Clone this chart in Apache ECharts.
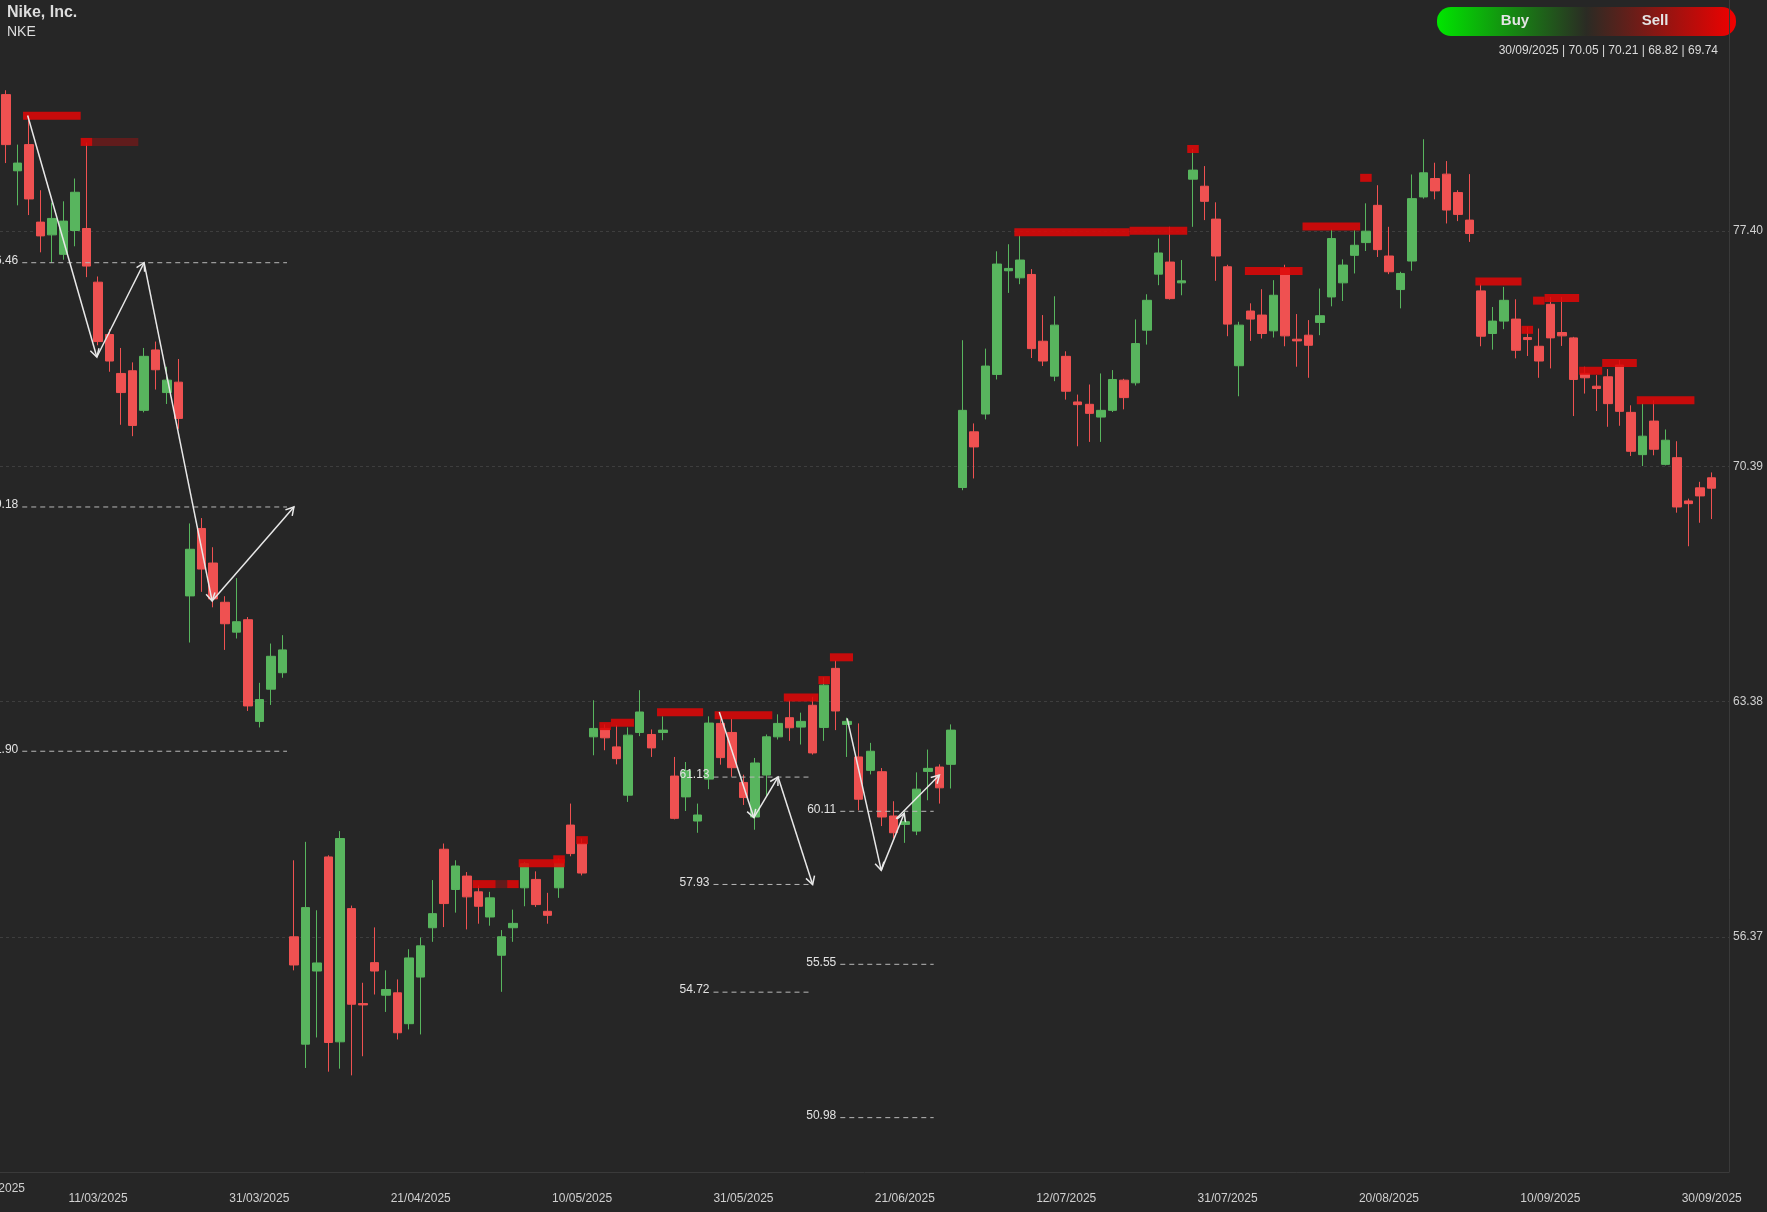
<!DOCTYPE html>
<html>
<head>
<meta charset="utf-8">
<title>NKE</title>
<script src="https://cdn.jsdelivr.net/npm/echarts@6/dist/echarts.min.js"></script>
<style>
    html, body { margin: 0; padding: 0; background: #262626; }
    #chart { width: 1767px; height: 1212px; }
</style>
</head>
<body>
<div id="chart"></div>
<script>
// trading days (dd/mm, 2025) - friday bars carry the saturday stamp like the source
var days = [
    '27/02', '01/03',
    '03/03', '04/03', '05/03', '06/03', '08/03',
    '10/03', '11/03', '12/03', '13/03', '15/03',
    '17/03', '18/03', '19/03', '20/03', '22/03',
    '24/03', '25/03', '26/03', '27/03', '29/03',
    '31/03', '01/04', '02/04', '03/04', '05/04',
    '07/04', '08/04', '09/04', '10/04', '12/04',
    '14/04', '15/04', '16/04', '17/04',
    '21/04', '22/04', '23/04', '24/04', '26/04',
    '28/04', '29/04', '30/04', '01/05', '03/05',
    '05/05', '06/05', '07/05', '08/05', '10/05',
    '12/05', '13/05', '14/05', '15/05', '17/05',
    '19/05', '20/05', '21/05', '22/05', '24/05',
    '27/05', '28/05', '29/05', '31/05',
    '02/06', '03/06', '04/06', '05/06', '07/06',
    '09/06', '10/06', '11/06', '12/06', '14/06',
    '16/06', '17/06', '18/06', '21/06',
    '23/06', '24/06', '25/06', '26/06', '28/06',
    '30/06', '01/07', '02/07', '03/07',
    '07/07', '08/07', '09/07', '10/07', '12/07',
    '14/07', '15/07', '16/07', '17/07', '19/07',
    '21/07', '22/07', '23/07', '24/07', '26/07',
    '28/07', '29/07', '30/07', '31/07', '02/08',
    '04/08', '05/08', '06/08', '07/08', '09/08',
    '11/08', '12/08', '13/08', '14/08', '16/08',
    '18/08', '19/08', '20/08', '21/08', '23/08',
    '25/08', '26/08', '27/08', '28/08', '30/08',
    '02/09', '03/09', '04/09', '06/09',
    '08/09', '09/09', '10/09', '11/09', '13/09',
    '15/09', '16/09', '17/09', '18/09', '20/09',
    '22/09', '23/09', '24/09', '25/09', '27/09',
    '29/09', '30/09',
    '01/10'   // empty slot on the right edge
];

var opens = [
    81.47, 79.20, 79.98, 77.67, 77.29, 76.71, 77.42, 77.48, 75.88, 74.32,
    73.16, 73.24, 72.06, 73.86, 72.59, 72.90, 66.53, 68.54, 67.51, 66.34,
    65.45, 65.82, 62.79, 63.75, 64.24, 56.37, 53.17, 55.35, 58.75, 53.24,
    57.21, 54.38, 55.60, 54.63, 54.70, 53.78, 55.17, 56.64, 58.98, 57.78,
    58.18, 57.71, 56.96, 55.82, 56.64, 57.83, 58.08, 57.13, 57.83, 59.70,
    59.15, 62.33, 62.58, 62.03, 60.59, 62.46, 62.40, 62.46, 61.16, 60.54,
    59.82, 61.07, 62.73, 62.46, 60.97, 59.94, 61.19, 62.33, 62.90, 62.62,
    63.27, 62.61, 64.37, 62.70, 61.73, 61.33, 61.29, 59.97, 59.72, 59.52,
    61.30, 61.43, 61.51, 69.76, 71.42, 71.95, 73.13, 76.22, 76.01, 76.11,
    74.12, 73.08, 73.67, 72.31, 72.24, 71.86, 72.06, 72.96, 72.88, 74.45,
    76.12, 76.48, 75.86, 78.95, 78.74, 77.76, 76.34, 73.39, 75.02, 74.90,
    74.43, 76.29, 74.18, 74.30, 74.68, 75.44, 75.86, 76.68, 77.06, 78.17,
    76.66, 75.66, 76.51, 78.42, 78.97, 79.10, 78.55, 77.73, 75.62, 74.35,
    74.72, 74.78, 74.23, 73.97, 75.22, 74.38, 74.22, 73.16, 72.78, 73.06,
    73.41, 72.00, 70.74, 71.74, 70.45, 70.65, 69.36, 69.75, 70.05
];
var highs = [
    81.60, 79.98, 80.73, 78.62, 78.25, 78.29, 78.97, 80.04, 76.05, 74.48,
    73.92, 73.49, 73.92, 74.11, 73.36, 73.59, 68.69, 68.85, 67.98, 66.52,
    67.06, 65.90, 63.94, 65.11, 65.36, 58.65, 59.20, 57.16, 58.80, 59.52,
    57.30, 55.00, 56.65, 55.37, 55.10, 56.00, 56.35, 58.06, 59.15, 58.65,
    58.30, 57.90, 57.71, 56.57, 57.18, 58.60, 58.32, 57.68, 58.70, 60.34,
    59.30, 63.42, 62.70, 62.68, 62.61, 63.72, 62.55, 62.94, 61.73, 61.58,
    60.34, 62.94, 63.00, 62.87, 61.20, 61.70, 62.40, 63.00, 63.42, 63.05,
    63.52, 64.10, 64.61, 62.90, 62.73, 62.15, 61.40, 60.41, 60.09, 61.27,
    61.95, 61.51, 62.70, 74.15, 71.67, 73.90, 76.80, 77.01, 77.28, 76.27,
    74.90, 75.46, 73.82, 72.53, 72.83, 73.16, 73.26, 73.00, 74.77, 75.52,
    77.18, 77.53, 76.54, 79.85, 79.34, 78.26, 76.40, 74.70, 75.25, 75.67,
    75.94, 76.40, 74.93, 74.75, 75.69, 77.45, 76.56, 77.43, 78.23, 78.77,
    77.53, 76.19, 79.09, 80.14, 79.44, 79.49, 78.62, 79.10, 75.84, 75.14,
    75.74, 75.37, 74.55, 74.50, 75.44, 75.44, 74.25, 73.36, 73.11, 73.29,
    73.56, 72.21, 72.26, 72.36, 71.49, 71.14, 69.43, 69.93, 70.21
];
var lows = [
    79.43, 78.17, 77.88, 76.77, 76.46, 76.55, 76.95, 76.03, 74.00, 73.21,
    71.63, 71.29, 72.00, 72.68, 72.25, 71.51, 65.14, 66.65, 66.19, 64.92,
    65.26, 63.10, 62.61, 63.28, 64.09, 55.37, 52.46, 53.37, 52.35, 52.44,
    52.24, 52.81, 54.65, 54.13, 53.31, 53.61, 53.46, 56.22, 56.66, 57.09,
    56.59, 56.76, 56.70, 54.73, 56.22, 57.28, 57.26, 56.76, 57.53, 58.77,
    58.20, 61.78, 61.93, 61.51, 60.39, 62.35, 61.73, 62.23, 59.87, 60.12,
    59.47, 60.77, 61.50, 61.14, 60.30, 59.56, 60.56, 62.25, 62.21, 62.10,
    61.80, 62.21, 62.53, 61.73, 60.14, 61.21, 59.67, 59.30, 59.17, 59.40,
    60.44, 60.34, 60.79, 69.68, 70.03, 71.79, 72.98, 75.56, 75.82, 73.62,
    73.38, 72.93, 72.38, 70.99, 71.12, 71.12, 72.01, 72.09, 72.80, 74.02,
    75.79, 75.36, 75.49, 77.53, 77.73, 75.92, 74.27, 72.48, 74.13, 74.20,
    74.23, 73.97, 73.36, 73.03, 74.30, 75.16, 75.32, 76.14, 76.81, 76.63,
    76.12, 75.10, 76.22, 78.37, 78.35, 77.63, 77.70, 77.08, 73.97, 73.87,
    74.48, 73.61, 73.68, 73.03, 73.31, 73.98, 71.89, 72.56, 72.04, 71.57,
    71.60, 70.70, 70.40, 70.72, 70.42, 69.01, 68.01, 68.71, 68.82
];
var closes = [
    79.98, 79.43, 78.36, 77.26, 77.78, 77.70, 78.56, 76.36, 74.11, 73.53,
    72.59, 71.61, 73.67, 73.27, 72.96, 71.82, 67.92, 67.33, 66.44, 65.70,
    65.76, 63.25, 63.44, 64.73, 64.92, 55.53, 57.24, 55.59, 53.22, 59.30,
    54.36, 54.34, 55.35, 54.80, 53.51, 55.74, 56.10, 57.06, 57.36, 58.48,
    57.56, 57.28, 57.53, 56.37, 56.77, 58.55, 57.33, 57.01, 58.57, 58.85,
    58.27, 62.58, 62.30, 61.68, 62.38, 63.07, 62.00, 62.53, 59.90, 61.32,
    60.00, 62.74, 61.71, 61.41, 60.52, 61.55, 62.33, 62.73, 62.60, 62.79,
    61.85, 63.87, 63.10, 62.79, 60.47, 61.90, 59.94, 59.47, 59.80, 60.77,
    61.39, 60.81, 62.53, 72.06, 70.97, 73.38, 76.42, 76.29, 76.54, 73.90,
    73.53, 74.60, 72.63, 72.23, 71.97, 72.06, 72.98, 72.44, 74.05, 75.34,
    76.75, 75.39, 75.92, 79.22, 78.29, 76.66, 74.63, 74.60, 74.78, 74.35,
    75.49, 74.28, 74.13, 74.00, 74.88, 77.18, 76.39, 76.98, 77.40, 76.85,
    76.19, 76.14, 78.37, 79.14, 78.60, 78.03, 77.90, 77.33, 74.27, 74.72,
    75.34, 73.85, 74.17, 73.53, 74.22, 74.28, 72.98, 73.03, 72.71, 72.26,
    72.03, 70.84, 71.29, 70.90, 71.17, 69.18, 69.28, 69.51, 69.74
];

// right axis ticks
var priceTicks = [56.37, 63.38, 70.39, 77.40];

// sell zones: [first bar, last bar, price, strong 1 / faded 0]
var sellZones = [
    [2, 6, 80.84, 1], [7, 7, 80.06, 1], [8, 11, 80.06, 0],
    [41, 42, 57.94, 1], [43, 43, 57.94, 0], [44, 44, 57.94, 1],
    [45, 48, 58.56, 1], [48, 48, 58.68, 1], [50, 50, 59.25, 1],
    [52, 52, 62.65, 1], [53, 54, 62.75, 1], [57, 60, 63.06, 1],
    [62, 66, 62.97, 1], [68, 70, 63.50, 1], [71, 71, 64.02, 1],
    [72, 73, 64.70, 1], [88, 97, 77.37, 1], [98, 102, 77.41, 1],
    [103, 103, 79.85, 1], [108, 112, 76.21, 1], [113, 117, 77.54, 1],
    [118, 118, 78.99, 1], [128, 131, 75.90, 1], [132, 132, 74.46, 1],
    [133, 133, 75.33, 1], [134, 136, 75.41, 1], [137, 138, 73.24, 1],
    [139, 141, 73.47, 1], [142, 146, 72.36, 1]
];

// zigzag pivots [bar, price]
var waveA = [[1.9, 80.85], [7.9, 73.65], [12.0, 76.46], [17.9, 66.38], [25.0, 69.18]];
var waveB = [[61.9, 63.07], [64.9, 59.92], [67.0, 61.13], [70.0, 57.93]];
var waveC = [[73.0, 62.88], [75.95, 58.35], [77.95, 60.05]];
var waveD = [[77.25, 59.89], [81.0, 61.19]];

// projected levels [from bar, to bar, price]
var levels = [
    [1.43, 24.4, 76.46], [1.43, 24.4, 69.18], [1.43, 24.4, 61.90],
    [61.4, 69.8, 61.13], [61.4, 69.8, 57.93], [61.4, 69.8, 54.72],
    [72.4, 80.5, 60.11], [72.4, 80.5, 55.55], [72.4, 80.5, 50.98]
];

var lastBar = '30/09/2025 | 70.05 | 70.21 | 68.82 | 69.74';

var FONT = '"Liberation Sans", Arial, Helvetica, sans-serif';

function buildCandles() {
    var out = [];
    for (var i = 0; i < opens.length; i++) {
        out.push([opens[i], closes[i], lows[i], highs[i]]);
    }
    return out;
}

function buildLegs(waves) {
    var out = [];
    waves.forEach(function (w) {
        for (var i = 1; i < w.length; i++) {
            out.push([w[i - 1][0], w[i - 1][1], w[i][0], w[i][1]]);
        }
    });
    return out;
}

function renderZone(params, api) {
    var a = api.coord([api.value(0), api.value(2)]);
    var b = api.coord([api.value(1), api.value(2)]);
    var band = api.size([1, 0])[0];
    var strong = api.value(3) === 1;
    return {
        type: 'rect',
        shape: { x: a[0] - band / 2, y: a[1] - 4, width: b[0] - a[0] + band, height: 8 },
        style: { fill: strong ? 'rgba(222,8,8,0.88)' : 'rgba(222,8,8,0.32)' }
    };
}

function renderLeg(params, api) {
    var a = api.coord([api.value(0), api.value(1)]);
    var b = api.coord([api.value(2), api.value(3)]);
    var ang = Math.atan2(b[1] - a[1], b[0] - a[0]);
    var len = 9, spread = Math.PI / 6;
    var h1 = [b[0] - len * Math.cos(ang - spread), b[1] - len * Math.sin(ang - spread)];
    var h2 = [b[0] - len * Math.cos(ang + spread), b[1] - len * Math.sin(ang + spread)];
    return {
        type: 'group',
        children: [
            { type: 'line', shape: { x1: a[0], y1: a[1], x2: b[0], y2: b[1] },
              style: { stroke: '#e8e8e8', lineWidth: 1.5 } },
            { type: 'polyline', shape: { points: [h1, b, h2] },
              style: { stroke: '#e8e8e8', lineWidth: 1.5, fill: null } }
        ]
    };
}

function renderLevel(params, api) {
    var a = api.coord([api.value(0), api.value(2)]);
    var b = api.coord([api.value(1), api.value(2)]);
    return {
        type: 'group',
        children: [
            { type: 'line', shape: { x1: a[0], y1: a[1], x2: b[0], y2: b[1] },
              style: { stroke: '#b8b8b8', lineWidth: 1, lineDash: [5, 4] } },
            { type: 'text', x: a[0] - 4, y: a[1] + 4,
              style: { text: api.value(2).toFixed(2), fill: '#e2e2e2', font: '12px ' + FONT,
                       align: 'right', verticalAlign: 'bottom' } }
        ]
    };
}

var myChart = echarts.init(document.getElementById('chart'));

var option = {
    backgroundColor: '#262626',
    animation: false,
    title: {
        text: 'Nike, Inc.',
        subtext: 'NKE',
        left: 7,
        top: 5,
        padding: 0,
        itemGap: 4,
        textStyle: { color: '#dddddd', fontSize: 16, fontWeight: 'bold', fontFamily: FONT },
        subtextStyle: { color: '#dddddd', fontSize: 14, fontFamily: FONT }
    },
    grid: { left: -2.27, right: 38, top: 0, bottom: 40 },
    xAxis: [
        {
            type: 'category',
            data: days.map(function (d) { return d + '/2025'; }),
            boundaryGap: true,
            axisLine: { show: true, lineStyle: { color: '#3a3a3a' } },
            axisTick: { show: false },
            splitLine: { show: false },
            axisLabel: {
                color: '#d0d0d0',
                fontSize: 12,
                fontFamily: FONT,
                margin: 21,
                interval: function (index) { return index % 14 === 8; }
            }
        },
        {
            // plain numeric twin of the bar axis, for the drawn studies
            type: 'value',
            min: -0.5,
            max: days.length - 0.5,
            show: false
        }
    ],
    yAxis: {
        type: 'value',
        position: 'right',
        min: 49.36,
        max: 84.29,
        axisLine: { show: true, onZero: false, lineStyle: { color: '#3a3a3a' } },
        axisTick: { show: false, customValues: priceTicks },
        axisLabel: {
            customValues: priceTicks,
            color: '#d0d0d0',
            fontSize: 12,
            fontFamily: FONT,
            margin: 4,
            formatter: function (v) { return v.toFixed(2); }
        },
        splitLine: { show: true, lineStyle: { color: '#3e3e3e', type: [3, 3] } }
    },
    graphic: [
        {
            type: 'rect',
            left: 1437, top: 7,
            shape: { width: 299, height: 29, r: 14 },
            style: {
                fill: new echarts.graphic.LinearGradient(0, 0, 1, 0, [
                    { offset: 0, color: '#00e600' },
                    { offset: 0.5, color: '#2b2b24' },
                    { offset: 1, color: '#f20000' }
                ])
            }
        },
        { type: 'text', x: 1515, y: 21,
          style: { text: 'Buy', fill: '#e4e4e4', font: 'bold 15px ' + FONT, align: 'center', verticalAlign: 'middle' } },
        { type: 'text', x: 1655, y: 21,
          style: { text: 'Sell', fill: '#e4e4e4', font: 'bold 15px ' + FONT, align: 'center', verticalAlign: 'middle' } },
        { type: 'text', x: 1718, y: 51,
          style: { text: lastBar, fill: '#dcdcdc', font: '12px ' + FONT, align: 'right', verticalAlign: 'middle' } },
        { type: 'text', x: 25, y: 1189,
          style: { text: '24/02/2025', fill: '#d0d0d0', font: '12px ' + FONT, align: 'right', verticalAlign: 'middle' } }
    ],
    series: [
        {
            name: 'NKE',
            type: 'candlestick',
            xAxisIndex: 0,
            data: buildCandles(),
            barWidth: 9,
            itemStyle: {
                color: '#58b55e',
                color0: '#ef5151',
                borderColor: '#58b55e',
                borderColor0: '#ef5151',
                borderWidth: 1
            },
            z: 2
        },
        {
            name: 'sell zones',
            type: 'custom',
            xAxisIndex: 1,
            renderItem: renderZone,
            data: sellZones,
            encode: { x: [0, 1], y: 2 },
            z: 3
        },
        {
            name: 'levels',
            type: 'custom',
            xAxisIndex: 1,
            renderItem: renderLevel,
            data: levels,
            encode: { x: [0, 1], y: 2 },
            clip: false,
            z: 4
        },
        {
            name: 'waves',
            type: 'custom',
            xAxisIndex: 1,
            renderItem: renderLeg,
            data: buildLegs([waveA, waveB, waveC, waveD]),
            encode: { x: [0, 2], y: [1, 3] },
            z: 5
        }
    ]
};

myChart.setOption(option);
</script>
</body>
</html>
